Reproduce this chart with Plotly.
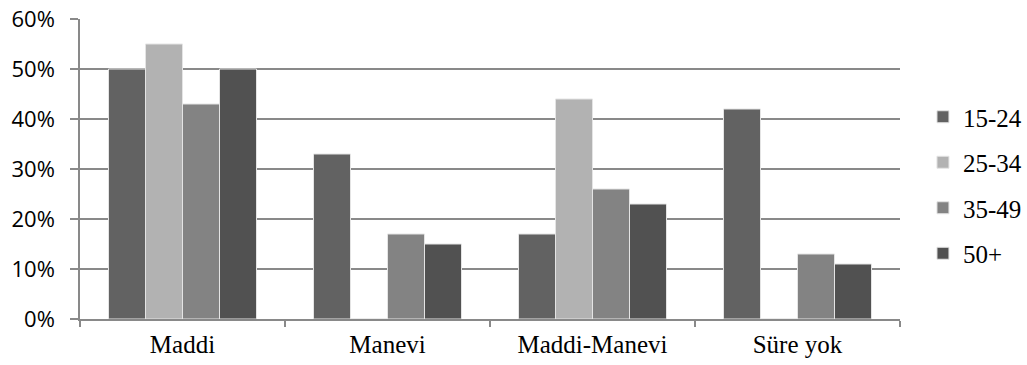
import plotly.graph_objects as go

# Response categories on the x axis
categories = ["Maddi", "Manevi", "Maddi-Manevi", "Süre yok"]

# Age groups and their shares (%) per category
age_groups = ["15-24", "25-34", "35-49", "50+"]
values_15_24 = [50, 33, 17, 42]
values_25_34 = [55, 0, 44, 0]
values_35_49 = [43, 17, 26, 13]
values_50_plus = [50, 15, 23, 11]

series_values = [values_15_24, values_25_34, values_35_49, values_50_plus]
bar_colors = ["#626262", "#b2b2b2", "#838383", "#515151"]

y_tick_values = [0, 10, 20, 30, 40, 50, 60]
y_tick_labels = ["0%", "10%", "20%", "30%", "40%", "50%", "60%"]

grid_color = "#898989"
serif = "Liberation Serif, Times New Roman, serif"

fig = go.Figure()
for name, vals, color in zip(age_groups, series_values, bar_colors):
    fig.add_trace(go.Bar(
        name=name,
        x=categories,
        y=vals,
        legendgroup=name,
        marker=dict(color=color, line=dict(color="#e4e4e4", width=1)),
    ))

fig.update_layout(
    width=1027,
    height=365,
    margin=dict(l=80, r=127, t=19, b=46, autoexpand=False),
    paper_bgcolor="white",
    plot_bgcolor="white",
    barmode="group",
    bargap=0.278,
    bargroupgap=0,
    showlegend=True,
    legend=dict(
        x=1.028,
        y=0.75,
        xanchor="left",
        yanchor="top",
        font=dict(family=serif, size=25, color="#000000"),
        tracegroupgap=10,
        bgcolor="rgba(0,0,0,0)",
    ),
    xaxis=dict(
        type="category",
        automargin=False,
        showline=True,
        linecolor=grid_color,
        linewidth=1.5,
        ticks="outside",
        tickson="boundaries",
        ticklen=6,
        tickcolor=grid_color,
        tickwidth=1.5,
        showgrid=False,
        tickfont=dict(family=serif, size=25, color="#000000"),
        ticklabelstandoff=2,
    ),
    yaxis=dict(
        range=[0, 60],
        automargin=False,
        tickvals=y_tick_values,
        ticktext=y_tick_labels,
        showline=True,
        linecolor=grid_color,
        linewidth=1.5,
        ticks="outside",
        ticklen=8,
        tickcolor=grid_color,
        tickwidth=1.5,
        showgrid=True,
        gridcolor=grid_color,
        gridwidth=1.5,
        zeroline=False,
        tickfont=dict(family="Open Sans, sans-serif", size=22, color="#000000"),
        ticklabelstandoff=11,
    ),
)

fig.write_html("out.html")
